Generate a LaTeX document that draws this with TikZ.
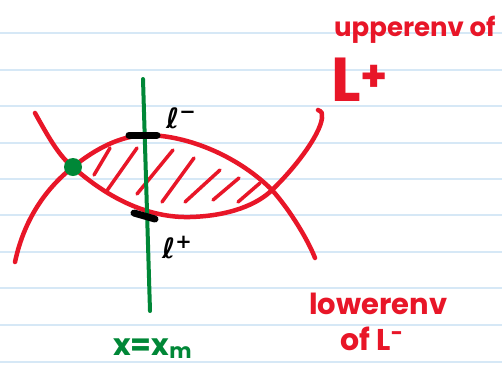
\documentclass[tikz,border=0pt]{standalone}
\usepackage{fontspec}
\setmainfont{Poppins}
\newfontfamily\symfont{DejaVu Sans}
\definecolor{inkred}{RGB}{232,22,40}
\definecolor{inkgreen}{RGB}{0,135,55}
\definecolor{ruling}{RGB}{214,232,246}

\begin{document}
\begin{tikzpicture}[
        x=1pt, y=-1pt,
        ruled/.style={draw=ruling, line width=1.6pt},
        curve/.style={draw=inkred, line width=4.5pt, line cap=round},
        hatch/.style={draw=inkred, line width=3.5pt, line cap=round},
        cut/.style={draw=black, line width=7pt, line cap=round},
        vline/.style={draw=inkgreen, line width=4pt, line cap=round},
        redtext/.style={text=inkred, inner sep=0pt, anchor=base west,
            font=\bfseries\fontsize{26}{28}\selectfont},
        ltext/.style={text=black, inner sep=0pt, anchor=base west,
            font=\symfont\bfseries\fontsize{28}{30}\selectfont}
    ]

    \useasboundingbox[fill=white] (0,0) rectangle (502,370);

    \foreach \y in {33,70,106,143,179,215,252,288,325,362}
        \draw[ruled] (0,\y) -- (502,\y);

    \coordinate (meet) at (73,167);
    \coordinate (cross) at (272,190);

    \draw[curve] (35,113) .. controls (50,140) and (60,157) .. (meet)
        .. controls (110,200) and (150,218) .. (190,217)
        .. controls (230,216) and (258,204) .. (cross)
        .. controls (295,168) and (320,135) .. (322,118)
        .. controls (322,112) .. (318,110);

    \draw[curve] (15,262) .. controls (25,215) and (50,185) .. (meet)
        .. controls (95,149) and (120,136) .. (145,135)
        .. controls (190,135) and (240,158) .. (cross)
        .. controls (290,210) and (308,240) .. (315,258);

    \foreach \xa/\ya/\xb/\yb in {94/175/110/148, 106/192/137/148, 137/194/173/150,
                       162/202/194/158, 185/202/220/170, 213/200/239/178,
                       238/202/260/183}
        \draw[hatch] (\xa,\ya) -- (\xb,\yb);

    \draw[vline] (143,79) -- (150,311);
    \fill[inkgreen] (meet) circle (9);

    \draw[cut] (129,135) -- (157,135);
    \draw[cut] (134,213) -- (155,219);

    \node[ltext] (lminus) at (166,128) {ℓ\textsuperscript{−}};
    \node[ltext] (lplus) at (162,258) {ℓ\textsuperscript{+}};

    \node[redtext] (upper) at (334,36) {upperenv of};
    \node[redtext, font=\bfseries\fontsize{62}{64}\selectfont] (lup) at (331,101) {L\textsuperscript{+}};
    \node[redtext, font=\bfseries\fontsize{29}{31}\selectfont] (lower) at (309,314) {lowerenv};
    \node[redtext, font=\bfseries\fontsize{30}{32}\selectfont] (lowof) at (340,350) {of L\textsuperscript{−}};

    \node[redtext, text=inkgreen, font=\bfseries\fontsize{30}{32}\selectfont] (xm) at (113,355) {x=x\textsubscript{m}};

\end{tikzpicture}
\end{document}
